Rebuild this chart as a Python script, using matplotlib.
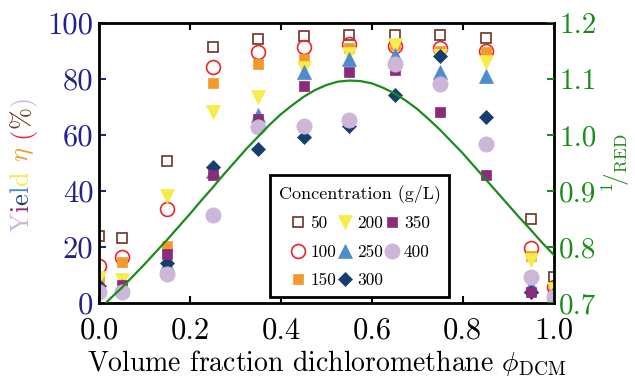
"""Yield vs. solvent composition, with 1/RED from Hansen parameters on the right axis.

Usage:
    python plot.py
"""

from __future__ import annotations

import matplotlib

matplotlib.use("Agg")
import matplotlib.pyplot as plt
from matplotlib.ticker import FormatStrFormatter, MultipleLocator

plt.rcParams["font.family"] = "serif"
plt.rcParams["font.serif"] = ["cmr10", "DejaVu Serif"]
plt.rcParams["mathtext.fontset"] = "cm"
plt.rcParams["axes.formatter.use_mathtext"] = True

# volume fraction of dichloromethane
PHI = [0.0, 0.05, 0.15, 0.25, 0.35, 0.45, 0.55, 0.65, 0.75, 0.85, 0.95, 1.0]

# yield (%) per concentration (g/L)
YIELD_50 = [24, 23, 50.7, 91.5, 94.3, 95.4, 95.5, 95.7, 95.7, 94.5, 29.9, 9.2]
YIELD_100 = [13, 16.5, 33.5, 84.4, 89.5, 91.3, 92.5, 91.9, 91.0, 89.8, 19.5, 5.8]
YIELD_150 = [8, 14.6, 20.4, 78.7, 85.4, 87.0, 91.0, 92.0, 90.0, 89.5, 16.8, 5.0]
YIELD_200 = [9, 8, 38.0, 68.0, 73.7, 84.0, 89.0, 92.0, 88.0, 86.2, 15.4, 5.0]
YIELD_250 = [6, 6, 14.0, 47.0, 67.0, 82.6, 87.0, 88.6, 82.6, 81.2, 6.0, 3.0]
YIELD_300 = [6, 5, 14.3, 48.7, 55.0, 59.3, 63.0, 74.3, 88.0, 66.5, 4.0, 3.0]
YIELD_350 = [5, 6.4, 17.5, 45.5, 65.7, 77.3, 82.3, 83.0, 68.0, 45.5, 4.0, 2.5]
YIELD_400 = [4, 4, 10.4, 31.4, 62.8, 63.0, 65.4, 85.2, 78.0, 56.7, 9.2, 2.0]

CONCENTRATIONS = ["50", "100", "150", "200", "250", "300", "350", "400"]

# 1/RED curve
RED_PHI = [0.000, 0.025, 0.050, 0.075, 0.100, 0.125, 0.150, 0.175, 0.200, 0.225,
           0.250, 0.275, 0.300, 0.325, 0.350, 0.375, 0.400, 0.425, 0.450, 0.475,
           0.500, 0.525, 0.550, 0.575, 0.600, 0.625, 0.650, 0.675, 0.700, 0.725,
           0.750, 0.775, 0.800, 0.825, 0.850, 0.875, 0.900, 0.925, 0.950, 0.975,
           1.000]
INV_RED = [0.688, 0.708, 0.727, 0.748, 0.769, 0.791, 0.813, 0.836, 0.859, 0.883,
           0.906, 0.930, 0.953, 0.976, 0.997, 1.018, 1.037, 1.053, 1.068, 1.080,
           1.089, 1.095, 1.097, 1.096, 1.092, 1.084, 1.074, 1.061, 1.046, 1.028,
           1.009, 0.988, 0.967, 0.944, 0.921, 0.898, 0.875, 0.852, 0.830, 0.807,
           0.786]

COLORS = {
    "50": "#6b3524",
    "100": "#e8262b",
    "150": "#f39a2e",
    "200": "#f6ec4a",
    "250": "#4e8ccc",
    "300": "#163f70",
    "350": "#8b2b79",
    "400": "#cdb7d8",
    "left": "#22228c",
    "right": "#1a8c1a",
}

# marker, size, filled
STYLES = {
    "50": ("s", 6.5, False),
    "100": ("o", 10, False),
    "150": ("s", 7, True),
    "200": ("v", 9.5, True),
    "250": ("^", 9.5, True),
    "300": ("D", 7.5, True),
    "350": ("s", 7, True),
    "400": ("o", 11, True),
}


def colored_ylabel(fig, pieces, x, y_center, fontsize):
    """Draw a vertical label whose pieces each get their own colour."""
    renderer = fig.canvas.get_renderer()

    def length(s):
        t = fig.text(0, 0, s, rotation=90, fontsize=fontsize)
        h = t.get_window_extent(renderer).height
        t.remove()
        return h

    space = length("a a") - length("aa")
    lengths = [space if s == " " else length(s) for s, _ in pieces]
    y = y_center * fig.bbox.height - sum(lengths) / 2
    for (s, c), L in zip(pieces, lengths):
        if s != " ":
            fig.text(x, y / fig.bbox.height, s, color=c, rotation=90,
                     rotation_mode="anchor", ha="left", va="baseline",
                     fontsize=fontsize)
        y += L


def main() -> None:
    fig = plt.figure(figsize=(6.35, 3.81), dpi=100)
    ax = fig.add_axes([0.156, 0.205, 0.716, 0.735])

    series = [YIELD_50, YIELD_100, YIELD_150, YIELD_200,
              YIELD_250, YIELD_300, YIELD_350, YIELD_400]
    for conc, ys in zip(CONCENTRATIONS, series):
        marker, ms, filled = STYLES[conc]
        col = COLORS[conc]
        ax.plot(PHI, ys, linestyle="none", marker=marker, markersize=ms,
                markerfacecolor=col if filled else "none",
                markeredgecolor=col, markeredgewidth=1.2 if not filled else 0.5,
                label=conc)

    ax.set_xlim(0, 1)
    ax.set_ylim(0, 100)
    ax.xaxis.set_major_locator(MultipleLocator(0.2))
    ax.xaxis.set_major_formatter(FormatStrFormatter("%.1f"))
    ax.yaxis.set_major_locator(MultipleLocator(20))
    ax.yaxis.set_major_formatter(FormatStrFormatter("%d"))
    ax.tick_params(axis="x", direction="in", length=5, width=1.5, top=True,
                   labelsize=22, pad=10)
    ax.tick_params(axis="y", direction="in", length=5, width=1.5,
                   color=COLORS["left"], labelcolor=COLORS["left"],
                   labelsize=22, pad=4)
    for sp in ax.spines.values():
        sp.set_linewidth(2)

    ax.set_xlabel(r"Volume fraction dichloromethane $\phi_{\mathrm{DCM}}$",
                  fontsize=20, labelpad=3)

    leg = ax.legend(ncol=3, loc="lower left", bbox_to_anchor=(0.376, 0.022),
                    borderaxespad=0.0,
                    title="Concentration (g/L)", fontsize=12.5,
                    title_fontsize=13, frameon=True, fancybox=False,
                    edgecolor="black", framealpha=1, handletextpad=0.2,
                    columnspacing=0.0, handlelength=1.0, borderpad=0.5,
                    labelspacing=0.75)
    leg.get_frame().set_linewidth(2)

    ax2 = ax.twinx()
    ax2.plot(RED_PHI, INV_RED, color=COLORS["right"], linewidth=1.6)
    ax2.set_ylim(0.7, 1.2)
    ax2.yaxis.set_major_locator(MultipleLocator(0.1))
    ax2.yaxis.set_major_formatter(FormatStrFormatter("%.1f"))
    ax2.tick_params(axis="y", direction="in", length=5, width=1.5,
                    color=COLORS["right"], labelcolor=COLORS["right"],
                    labelsize=21, pad=4)
    ax2.set_ylabel(r"$^{1}\!/_{\mathrm{RED}}$", color=COLORS["right"],
                   fontsize=18, labelpad=3)

    pieces = [
        ("Y", COLORS["400"]),
        ("i", COLORS["350"]),
        ("e", COLORS["300"]),
        ("l", COLORS["250"]),
        ("d", COLORS["200"]),
        (" ", None),
        (r"$\eta$", COLORS["150"]),
        (" ", None),
        ("(", COLORS["100"]),
        ("%", COLORS["50"]),
        (")", COLORS["400"]),
    ]
    colored_ylabel(fig, pieces, 0.045, 0.57, fontsize=19)

    fig.savefig("out.png", dpi=100)
    plt.close(fig)


if __name__ == "__main__":
    main()
